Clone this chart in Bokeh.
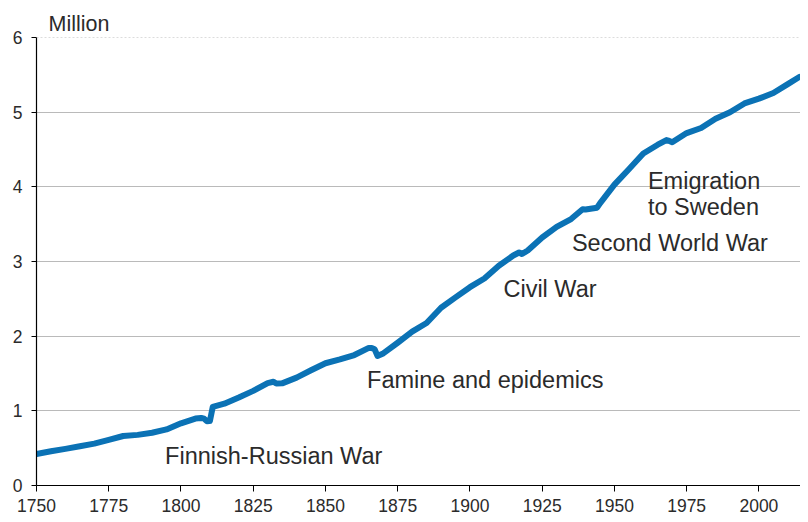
from bokeh.plotting import figure
from bokeh.models import ColumnDataSource, FixedTicker, Span, Range1d
from bokeh.core.properties import value
from bokeh.embed import file_html
from bokeh.resources import INLINE

# Population of Finland, million
years = [1750, 1755, 1760, 1765, 1770, 1775, 1780, 1785, 1790, 1795,
         1800, 1805, 1807, 1808, 1809, 1810, 1811, 1815, 1820, 1825,
         1830, 1832, 1833, 1835, 1840, 1845, 1850, 1855, 1860, 1865,
         1866, 1867, 1868, 1870, 1875, 1880, 1885, 1890, 1895, 1900,
         1905, 1910, 1915, 1917, 1918, 1920, 1925, 1930, 1935, 1939,
         1940, 1944, 1945, 1950, 1955, 1960, 1965, 1968, 1969, 1970,
         1975, 1980, 1985, 1990, 1995, 2000, 2005, 2010, 2014]
population = [0.421, 0.458, 0.491, 0.525, 0.561, 0.611, 0.663, 0.678, 0.706, 0.751,
              0.833, 0.896, 0.905, 0.895, 0.862, 0.863, 1.053, 1.096, 1.178, 1.267,
              1.372, 1.390, 1.365, 1.368, 1.445, 1.543, 1.637, 1.688, 1.747, 1.843,
              1.843, 1.826, 1.736, 1.769, 1.912, 2.061, 2.176, 2.380, 2.520, 2.656,
              2.773, 2.943, 3.080, 3.120, 3.100, 3.148, 3.322, 3.463, 3.568, 3.700,
              3.696, 3.721, 3.779, 4.030, 4.235, 4.446, 4.564, 4.626, 4.614, 4.598,
              4.720, 4.788, 4.911, 4.998, 5.117, 5.181, 5.256, 5.375, 5.471]

x_ticks = [1750, 1775, 1800, 1825, 1850, 1875, 1900, 1925, 1950, 1975, 2000]
y_ticks = [0, 1, 2, 3, 4, 5, 6]

note_text = ["Finnish-Russian War", "Famine and epidemics", "Civil War",
             "Second World War", "Emigration", "to Sweden"]
note_year = [1794.5, 1864.4, 1911.6, 1935.3, 1961.6, 1961.6]
note_value = [0.40, 1.413, 2.627, 3.253, 4.08, 3.733]

TXT = "#2b2b2b"
FONT = "Liberation Sans"

p = figure(width=800, height=514, output_backend="svg", toolbar_location=None,
           x_range=Range1d(1750, 2014.4), y_range=Range1d(0, 6),
           min_border_left=36, min_border_right=0, min_border_top=37,
           min_border_bottom=27, title="Million")
p.outline_line_color = None
p.background_fill_color = "white"
p.border_fill_color = "white"

p.title.align = "left"
p.title.offset = 12
p.title.standoff = 4
p.title.text_font = FONT
p.title.text_font_size = "21.5px"
p.title.text_font_style = "normal"
p.title.text_color = TXT

# grid
p.xgrid.visible = False
p.ygrid.ticker = FixedTicker(ticks=[1, 2, 3, 4, 5])
p.ygrid.grid_line_color = "#bababa"
p.ygrid.grid_line_width = 1
p.add_layout(Span(location=6, dimension="width", line_color="#bababa",
                  line_width=1, line_dash="2 2"))

# axes
for ax in (p.xaxis[0], p.yaxis[0]):
    ax.axis_line_color = "black"
    ax.axis_line_width = 1.2
    ax.major_tick_line_color = "black"
    ax.major_tick_in = 0
    ax.minor_tick_line_color = None
    ax.major_label_text_font = FONT
    ax.major_label_text_font_size = "17.5px"
    ax.major_label_text_color = TXT
p.xaxis.ticker = FixedTicker(ticks=x_ticks)
p.yaxis.ticker = FixedTicker(ticks=y_ticks)
p.xaxis.major_tick_out = 6
p.yaxis.major_tick_out = 5
p.xaxis.major_label_standoff = 7
p.yaxis.major_label_standoff = 9

src = ColumnDataSource(dict(x=years, y=population))
p.line("x", "y", source=src, line_color="#0b72b5", line_width=6,
       line_join="round", line_cap="round")

nsrc = ColumnDataSource(dict(x=note_year, y=note_value, t=note_text))
p.text("x", "y", text="t", source=nsrc, text_font=value(FONT),
       text_font_size="23.5px", text_color=TXT, text_align="left",
       text_baseline="alphabetic")

open("out.html", "w").write(file_html(p, INLINE))
